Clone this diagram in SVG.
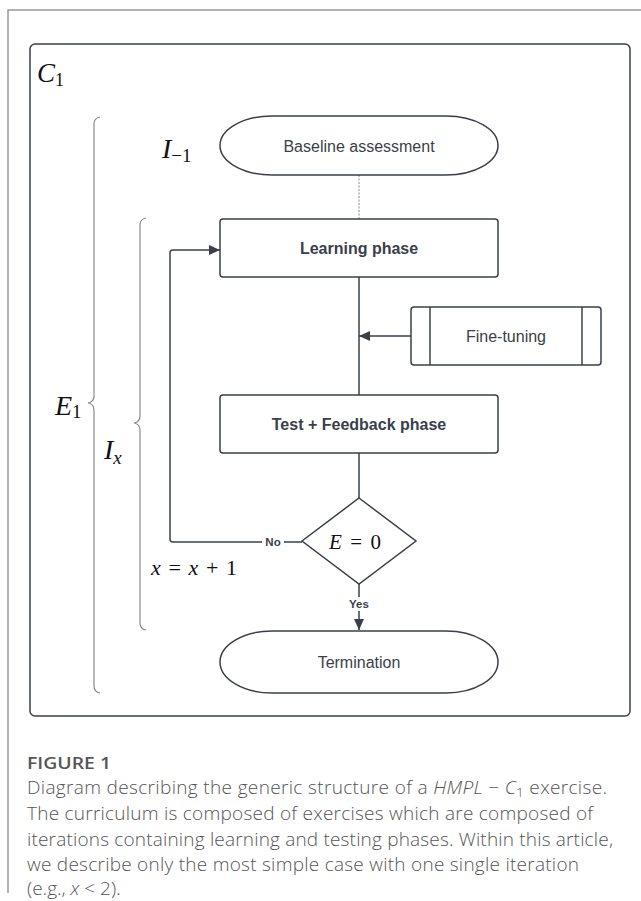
<svg xmlns="http://www.w3.org/2000/svg" width="641" height="901" viewBox="0 0 641 901">
<style>
.node{fill:#fff;stroke:#3a3f4a;stroke-width:1.5}
.lbl{font-family:"Liberation Sans",Arial,sans-serif;font-size:16px;fill:#3a3f4a;text-anchor:middle;dominant-baseline:central}
.b{font-weight:bold}
.conn{fill:none;stroke:#3a3f4a;stroke-width:1.5}
.brace{fill:none;stroke:#8a8a8a;stroke-width:1.2}
.math{font-family:"Liberation Serif","Times New Roman",serif;fill:#111}
.cap{font-family:"Open Sans",sans-serif;font-size:19px;fill:#555;font-weight:300}
.el{font-family:"Liberation Sans",Arial,sans-serif;font-size:11.5px;font-weight:bold;fill:#3a3f4a;text-anchor:middle;dominant-baseline:central}
</style>
<defs>
<marker id="arr" markerUnits="userSpaceOnUse" markerWidth="12" markerHeight="10" refX="11" refY="5" orient="auto">
<path d="M0,0 L11,5 L0,10 Z" fill="#3a3f4a"/>
</marker>
</defs>
<rect width="641" height="901" fill="#fff"/>
<path d="M641,10 H8 V893" fill="none" stroke="#999" stroke-width="1.5"/>
<rect id="frame" x="30" y="44" width="600" height="672" rx="5" fill="none" stroke="#3a3f4a" stroke-width="1.5"/>
<text class="math" x="37" y="82" font-size="27"><tspan font-style="italic">C</tspan><tspan font-size="18" dy="4">1</tspan></text>
<g id="braces">
<path class="brace" d="M100,117 Q94,118 94,124 V396 Q94,402 88,403 Q94,404 94,410 V686 Q94,692 100,693"/>
<path class="brace" d="M146,218 Q140,219 140,225 V416 Q140,422 134,423 Q140,424 140,430 V623 Q140,629 146,630"/>
</g>
<text class="math" x="55" y="415" font-size="28"><tspan font-style="italic">E</tspan><tspan font-size="19" dy="3">1</tspan></text>
<text class="math" x="104" y="459" font-size="28"><tspan font-style="italic">I</tspan><tspan font-size="19" dy="5" font-style="italic">x</tspan></text>
<text class="math" x="162" y="158" font-size="28"><tspan font-style="italic">I</tspan><tspan font-size="19" dy="4">−1</tspan></text>
<text class="math" x="151" y="575" font-size="22" textLength="86" lengthAdjust="spacing"><tspan font-style="italic">x</tspan> = <tspan font-style="italic">x</tspan> + 1</text>
<g id="connectors">
<line x1="359" y1="175" x2="359" y2="219" stroke="#888" stroke-width="1" stroke-dasharray="2,1.5"/>
<line class="conn" x1="359" y1="277" x2="359" y2="395"/>
<line class="conn" x1="411" y1="336" x2="359" y2="336" marker-end="url(#arr)"/>
<line class="conn" x1="359" y1="453" x2="359" y2="498"/>
<path class="conn" d="M302,542 H173 Q170,542 170,539 V253 Q170,250 173,250 H220" marker-end="url(#arr)"/>
<line class="conn" x1="359" y1="583" x2="359" y2="630" marker-end="url(#arr)"/>
<rect x="262" y="535" width="22" height="14" fill="#fff"/>
<text class="el" x="273" y="542">No</text>
<rect x="346" y="597" width="26" height="14" fill="#fff"/>
<text class="el" x="359" y="604">Yes</text>
</g>
<g id="baseline">
<rect class="node" x="220" y="116" width="278" height="59" rx="52" ry="29.5"/>
<text class="lbl" x="359" y="146">Baseline assessment</text>
</g>
<g id="learning">
<rect class="node" x="220" y="219" width="278" height="58" rx="3"/>
<text class="lbl b" x="359" y="248">Learning phase</text>
</g>
<g id="finetuning">
<rect class="node" x="411" y="307" width="190" height="58" rx="3"/>
<line class="conn" x1="430" y1="307" x2="430" y2="365"/>
<line class="conn" x1="582" y1="307" x2="582" y2="365"/>
<text class="lbl" x="506" y="336">Fine-tuning</text>
</g>
<g id="test">
<rect class="node" x="220" y="395" width="278" height="58" rx="3"/>
<text class="lbl b" x="359" y="424">Test + Feedback phase</text>
</g>
<g id="decision">
<path class="node" d="M359,498 L416,541 L359,584 L302,541 Z"/>
<text class="math" x="329" y="549" font-size="21" textLength="52" lengthAdjust="spacing"><tspan font-style="italic">E</tspan> = 0</text>
</g>
<g id="termination">
<rect class="node" x="220" y="631" width="278" height="62" rx="52" ry="31"/>
<text class="lbl" x="359" y="662">Termination</text>
</g>
<g id="caption">
<text x="27" y="769" font-family="'Open Sans',sans-serif" font-size="16" font-weight="600" fill="#555" textLength="84" lengthAdjust="spacingAndGlyphs">FIGURE 1</text>
<text class="cap" x="27" y="794" textLength="580" lengthAdjust="spacing">Diagram describing the generic structure of a <tspan font-style="italic">HMPL</tspan> − <tspan font-style="italic">C</tspan><tspan font-size="13" dy="3">1</tspan><tspan dy="-3"> exercise.</tspan></text>
<text class="cap" x="27" y="820" textLength="566" lengthAdjust="spacing">The curriculum is composed of exercises which are composed of</text>
<text class="cap" x="27" y="846" textLength="586" lengthAdjust="spacing">iterations containing learning and testing phases. Within this article,</text>
<text class="cap" x="27" y="871" textLength="552" lengthAdjust="spacing">we describe only the most simple case with one single iteration</text>
<text class="cap" x="27" y="895">(e.g., <tspan font-style="italic">x</tspan> &lt; 2).</text>
</g>
</svg>
